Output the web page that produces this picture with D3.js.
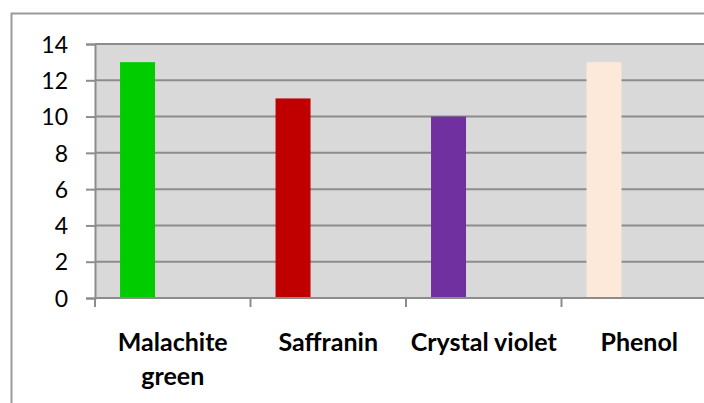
<!DOCTYPE html>
<html>
<head>
<meta charset="utf-8">
<script src="https://cdn.jsdelivr.net/npm/d3@7/dist/d3.min.js"></script>
<style>
  html, body { margin: 0; padding: 0; background: #fff; }
  svg { display: block; }
</style>
</head>
<body>
<svg id="chart" width="704" height="403"></svg>
<script>
// Dye categories and measured values
const categories = ["Malachite green", "Saffranin", "Crystal violet", "Phenol"];
const values = [13, 11, 10, 13];
const barColors = ["#00cc00", "#c00000", "#7030a0", "#fde9d9"];
const yTicks = [0, 2, 4, 6, 8, 10, 12, 14];

const svg = d3.select("#chart");
const W = 704, H = 403;

const plot = { left: 95, top: 44, bottom: 298, band: 155.5 };
const FONT = "Lato, 'Open Sans', sans-serif";

// Outer chart frame (runs off the right and bottom edges)
svg.append("rect")
  .attr("x", 11.5).attr("y", 13.5)
  .attr("width", W).attr("height", H)
  .attr("fill", "#fff")
  .attr("stroke", "#9a9a9a").attr("stroke-width", 2);

const x = d3.scaleBand()
  .domain(categories)
  .range([plot.left, plot.left + plot.band * categories.length])
  .padding(0);

const y = d3.scaleLinear()
  .domain([0, 14])
  .range([plot.bottom, plot.top]);

// Plot area background
svg.append("rect")
  .attr("x", plot.left).attr("y", plot.top)
  .attr("width", x.range()[1] - plot.left)
  .attr("height", plot.bottom - plot.top)
  .attr("fill", "#d9d9d9");

// Horizontal gridlines
svg.append("g")
  .selectAll("line")
  .data(yTicks.filter(d => d > 0))
  .join("line")
  .attr("x1", plot.left).attr("x2", x.range()[1])
  .attr("y1", d => y(d)).attr("y2", d => y(d))
  .attr("stroke", "#8c8c8c").attr("stroke-width", 2);

// Bars: first slot of a three-slot cluster in each category band
const slotOffset = 0.161, slotWidth = 0.225;
svg.append("g")
  .selectAll("rect")
  .data(categories.map((c, i) => ({ c, v: values[i], color: barColors[i] })))
  .join("rect")
  .attr("x", d => x(d.c) + x.bandwidth() * slotOffset)
  .attr("width", x.bandwidth() * slotWidth)
  .attr("y", d => y(d.v))
  .attr("height", d => y(0) - y(d.v))
  .attr("fill", d => d.color);

// Y axis
const yAxis = svg.append("g")
  .attr("transform", `translate(${plot.left},0)`)
  .call(d3.axisLeft(y).tickValues(yTicks).tickSize(9).tickPadding(18).tickFormat(d3.format("d")));
yAxis.select(".domain").attr("stroke", "#8c8c8c").attr("stroke-width", 2);
yAxis.selectAll(".tick line").attr("stroke", "#8c8c8c").attr("stroke-width", 2);
yAxis.selectAll(".tick text")
  .attr("font-family", FONT).attr("font-size", 23).attr("fill", "#000")
  .attr("dy", "0.36em");

// X axis line and band-boundary ticks
svg.append("line")
  .attr("x1", plot.left).attr("x2", x.range()[1])
  .attr("y1", plot.bottom).attr("y2", plot.bottom)
  .attr("stroke", "#8c8c8c").attr("stroke-width", 2);
svg.append("g")
  .selectAll("line")
  .data(categories.map(c => x(c)).concat([x.range()[1]]))
  .join("line")
  .attr("x1", d => d).attr("x2", d => d)
  .attr("y1", plot.bottom).attr("y2", plot.bottom + 9)
  .attr("stroke", "#8c8c8c").attr("stroke-width", 2);

// Category labels, wrapped to the band width
const labels = svg.append("g")
  .selectAll("text")
  .data(categories)
  .join("text")
  .attr("x", d => x(d) + x.bandwidth() / 2)
  .attr("y", plot.bottom + 53)
  .attr("text-anchor", "middle")
  .attr("font-family", FONT).attr("font-size", 25).attr("font-weight", "bold")
  .attr("fill", "#000");

labels.each(function(d) {
  const t = d3.select(this);
  const maxW = x.bandwidth();
  const words = d.split(" ");
  let line = [];
  let tspan = t.append("tspan").attr("x", t.attr("x")).attr("dy", 0);
  words.forEach(w => {
    line.push(w);
    tspan.text(line.join(" "));
    if (tspan.node().getComputedTextLength() > maxW && line.length > 1) {
      line.pop();
      tspan.text(line.join(" "));
      line = [w];
      tspan = t.append("tspan").attr("x", t.attr("x")).attr("dy", 34).text(w);
    }
  });
});
</script>
</body>
</html>
